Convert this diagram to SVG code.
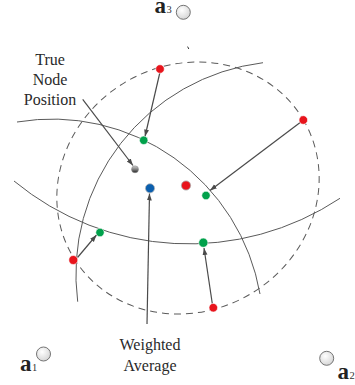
<svg xmlns="http://www.w3.org/2000/svg" width="355" height="385" viewBox="0 0 355 385">
<style>
.arc{fill:none;stroke:#5a5a5a;stroke-width:1}
.dash{fill:none;stroke:#5a5a5a;stroke-width:1;stroke-dasharray:7 5}
.conn{fill:none;stroke:#4a4a4a;stroke-width:1.2;marker-end:url(#ah)}
.lbl{font-family:"Liberation Serif","Times New Roman",serif;font-size:16px;fill:#2a2a2a;text-anchor:middle}
.anc{font-family:"Liberation Serif","Times New Roman",serif;font-size:23px;font-weight:bold;fill:#222}
.sub{font-family:"Liberation Serif","Times New Roman",serif;font-size:10.5px;fill:#333}
.anchor{fill:url(#ag);stroke:#666;stroke-width:0.9}
.red{fill:#e8141c;stroke:#fff;stroke-width:0.6}
.green{fill:#00a14b;stroke:#fff;stroke-width:0.6}
.blue{fill:#0b5fae;stroke:#bbb;stroke-width:0.8}
</style>
<defs>
<marker id="ah" viewBox="0 0 10 10" refX="10" refY="5" markerWidth="7" markerHeight="7" markerUnits="userSpaceOnUse" orient="auto">
<path d="M0,1.5 L10,5 L0,8.5 z" fill="#4a4a4a"/>
</marker>
<radialGradient id="ag" cx="0.4" cy="0.35" r="0.7">
<stop offset="0" stop-color="#ffffff"/>
<stop offset="1" stop-color="#d4d4d4"/>
</radialGradient>
<linearGradient id="tg" x1="0" y1="0" x2="0" y2="1">
<stop offset="0" stop-color="#cfcfcf"/>
<stop offset="0.45" stop-color="#8a8a8a"/>
<stop offset="1" stop-color="#222"/>
</linearGradient>
</defs>
<rect width="355" height="385" fill="#fff"/>

<g id="range-circles">
<path class="arc" d="M17,122 A211,211 0 0 1 260,294"/>
<path class="arc" d="M263,62.7 A213,213 0 0 0 77.7,301.7"/>
<path class="arc" d="M14,181 A274,274 0 0 0 340,198.3"/>
<ellipse class="dash" cx="188" cy="188" rx="134" ry="123" transform="rotate(-31 188 188)"/>
<path d="M187.6,46.6 L188.8,49" stroke="#333" stroke-width="1"/>
</g>

<g id="connectors">
<line class="conn" x1="160" y1="72" x2="145" y2="136.5"/>
<line class="conn" x1="301.5" y1="121.5" x2="210" y2="190.5"/>
<line class="conn" x1="77.5" y1="257.5" x2="96.5" y2="235"/>
<line class="conn" x1="212.5" y1="305" x2="204" y2="248"/>
<line class="conn" x1="82.7" y1="99.3" x2="133" y2="165.5"/>
<line class="conn" x1="147" y1="324" x2="149.5" y2="193.5"/>
</g>

<g id="anchor-a3">
<circle class="anchor" cx="183.3" cy="12.3" r="7"/>
<text class="anc" x="154.5" y="13">a</text>
<text class="sub" x="166.5" y="12.5">3</text>
</g>
<g id="anchor-a1">
<circle class="anchor" cx="43.5" cy="354" r="7"/>
<text class="anc" x="20" y="370.5">a</text>
<text class="sub" x="32" y="370.5">1</text>
</g>
<g id="anchor-a2">
<circle class="anchor" cx="326.7" cy="358.3" r="7"/>
<text class="anc" x="337.5" y="378.5">a</text>
<text class="sub" x="349.5" y="378.5">2</text>
</g>

<g id="estimates">
<circle class="red" cx="160" cy="69" r="4.3"/>
<circle class="red" cx="303.3" cy="120" r="4.3"/>
<circle class="red" cx="73.3" cy="260" r="4.5"/>
<circle class="red" cx="213.3" cy="307.7" r="4.3"/>
</g>
<g id="projections">
<circle class="green" cx="143.7" cy="140.3" r="4.2"/>
<circle class="green" cx="206" cy="195.5" r="4.2"/>
<circle class="green" cx="100" cy="232.5" r="4.2"/>
<circle class="green" cx="203.3" cy="242.7" r="4.6"/>
</g>
<g id="center-estimate">
<circle cx="186" cy="185.5" r="4.6" fill="#e8141c" stroke="#aaa" stroke-width="0.8"/>
</g>
<g id="weighted-average">
<circle class="blue" cx="150" cy="188.3" r="4.6"/>
<text class="lbl" x="150" y="350">Weighted</text>
<text class="lbl" x="150" y="370.5">Average</text>
</g>
<g id="true-node">
<circle cx="135" cy="169.3" r="3.5" fill="url(#tg)" stroke="#888" stroke-width="0.5"/>
<text class="lbl" x="50" y="65">True</text>
<text class="lbl" x="50" y="85">Node</text>
<text class="lbl" x="50" y="105">Position</text>
</g>
</svg>
